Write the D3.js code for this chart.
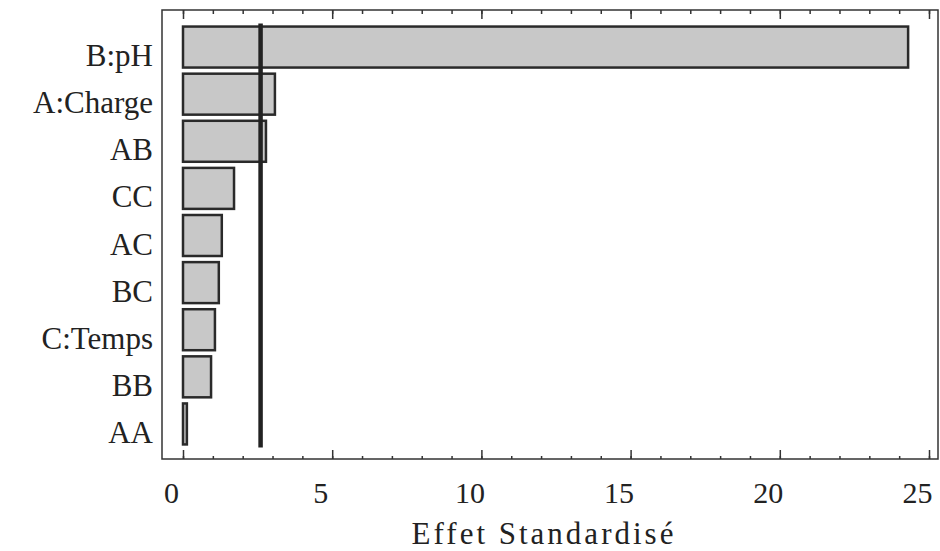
<!DOCTYPE html>
<html>
<head>
<meta charset="utf-8">
<script src="https://cdn.jsdelivr.net/npm/d3@7"></script>
<style>
  body { margin: 0; background: #fff; }
  text { font-family: "Liberation Serif", "Times New Roman", serif; fill: #222; }
</style>
</head>
<body>
<div id="chart"></div>
<script>
// effets standardises (Pareto)
const facteurs = ["B:pH", "A:Charge", "AB", "CC", "AC", "BC", "C:Temps", "BB", "AA"];
const effets = [24.3, 3.08, 2.78, 1.71, 1.3, 1.2, 1.07, 0.94, 0.13];
const seuil = 2.6;
const majorTicks = [0, 5, 10, 15, 20, 25];
const minorTicks = d3.range(0, 26, 1);
const axisTitle = "Effet Standardisé";

const width = 940, height = 551;
const frame = { left: 162, right: 938, top: 10, bottom: 459 };
const serif = "'Liberation Serif', 'Times New Roman', serif";

const svg = d3.select("#chart").append("svg")
    .attr("width", width)
    .attr("height", height);

const x = d3.scaleLinear().domain([0, 25]).range([183, 929]);
const y = d3.scaleBand().domain(facteurs).range([23.5, 447.5])
    .paddingInner(0.13).paddingOuter(0.065);

const data = facteurs.map((f, i) => ({ name: f, value: effets[i] }));

// cadre
svg.append("rect")
    .attr("x", frame.left).attr("y", frame.top)
    .attr("width", frame.right - frame.left)
    .attr("height", frame.bottom - frame.top)
    .attr("fill", "none").attr("stroke", "#333").attr("stroke-width", 1.5);

// ticks du bas (vers l'interieur)
const gMinB = svg.append("g").attr("transform", `translate(0,${frame.bottom})`)
    .call(d3.axisBottom(x).tickValues(minorTicks).tickSize(-3).tickFormat(""));
const gMajB = svg.append("g").attr("transform", `translate(0,${frame.bottom})`)
    .call(d3.axisBottom(x).tickValues(majorTicks).tickSize(-9).tickPadding(23).tickFormat(d3.format("d")))
    .attr("font-family", serif)
    .attr("font-size", 30);
[gMinB, gMajB].forEach(g => {
    g.select(".domain").remove();
    g.selectAll("line").attr("stroke", "#333").attr("stroke-width", 1.5);
});
gMajB.selectAll("text")
    .attr("dx", -12)
    .style("font-family", serif)
    .style("font-size", "30px")
    .attr("fill", "#222");

// ticks du haut
const gMinT = svg.append("g").attr("transform", `translate(0,${frame.top})`)
    .call(d3.axisTop(x).tickValues(minorTicks).tickSize(-4).tickFormat(""));
const gMajT = svg.append("g").attr("transform", `translate(0,${frame.top})`)
    .call(d3.axisTop(x).tickValues(majorTicks).tickSize(-9).tickFormat(""));
[gMinT, gMajT].forEach(g => {
    g.select(".domain").remove();
    g.selectAll("line").attr("stroke", "#333").attr("stroke-width", 1.5);
});

// barres
svg.append("g")
    .selectAll("rect")
    .data(data)
    .join("rect")
    .attr("x", x(0))
    .attr("y", d => y(d.name))
    .attr("width", d => Math.max(3, x(d.value) - x(0)))
    .attr("height", y.bandwidth())
    .attr("fill", "#c8c8c8")
    .attr("stroke", "#2a2a2a")
    .attr("stroke-width", 2.5);

// ligne de seuil
svg.append("line")
    .attr("x1", x(seuil)).attr("x2", x(seuil))
    .attr("y1", y.range()[0]).attr("y2", y.range()[1])
    .attr("stroke", "#222")
    .attr("stroke-width", 4.5);

// etiquettes des facteurs
svg.append("g")
    .selectAll("text")
    .data(data)
    .join("text")
    .attr("x", 153)
    .attr("y", d => y(d.name) + y.bandwidth() / 2 + 19)
    .attr("text-anchor", "end")
    .style("font-family", serif)
    .style("font-size", "31px")
    .text(d => d.name);

// titre de l'axe
svg.append("text")
    .attr("x", x(12.5) - 12)
    .attr("y", 544)
    .attr("text-anchor", "middle")
    .style("font-family", serif)
    .style("font-size", "31px")
    .style("letter-spacing", "3px")
    .text(axisTitle);
</script>
</body>
</html>
